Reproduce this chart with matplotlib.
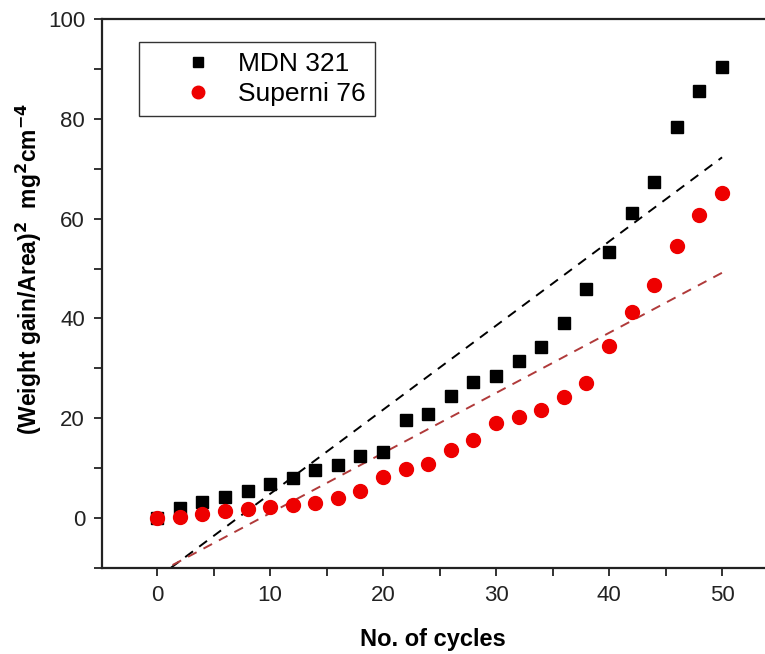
import numpy as np
import matplotlib
matplotlib.use("Agg")
import matplotlib.pyplot as plt
from matplotlib.ticker import MultipleLocator

plt.rcParams['font.family'] = ['Liberation Sans', 'DejaVu Sans']

cycles = [0, 2, 4, 6, 8, 10, 12, 14, 16, 18, 20, 22, 24, 26, 28, 30,
          32, 34, 36, 38, 40, 42, 44, 46, 48, 50]
mdn321 = [0.0, 2.1, 3.3, 4.3, 5.5, 6.9, 8.1, 9.6, 10.6, 12.4, 13.2, 19.6, 20.8,
          24.5, 27.3, 28.5, 31.4, 34.3, 39.1, 45.9, 53.3, 61.1, 67.3, 78.4,
          85.6, 90.4]
superni76 = [0.0, 0.3, 0.9, 1.5, 1.8, 2.2, 2.6, 3.1, 4.1, 5.4, 8.3, 9.9, 10.8,
             13.6, 15.7, 19.1, 20.3, 21.6, 24.2, 27.1, 34.5, 41.3, 46.7, 54.5,
             60.7, 65.1]
series_names = ["MDN 321", "Superni 76"]

fig = plt.figure(figsize=(7.65, 6.54), dpi=100)
ax = fig.add_axes([0.133, 0.1315, 0.867, 0.8395])

x = np.array(cycles, dtype=float)
y1 = np.array(mdn321)
y2 = np.array(superni76)

# linear fits through each series
p1 = np.polyfit(x, y1, 1)
p2 = np.polyfit(x, y2, 1)
xf = np.array([0.0, 50.0])
ax.plot(xf, np.polyval(p1, xf), ls=(0, (5, 4)), color='black', lw=1.4, zorder=2)
ax.plot(xf, np.polyval(p2, xf), ls=(0, (5, 4)), color='#b03a3a', lw=1.4, zorder=2)

ax.plot(x, y1, ls='none', marker='s', ms=8.4, color='black', label=series_names[0], zorder=3)
ax.plot(x, y2, ls='none', marker='o', ms=10, color='#ee0000', label=series_names[1], zorder=3)

ax.set_xlim(-4.9, 53.8)
ax.set_ylim(-10, 100)
ax.xaxis.set_major_locator(MultipleLocator(10))
ax.xaxis.set_minor_locator(MultipleLocator(5))
ax.yaxis.set_major_locator(MultipleLocator(20))
ax.yaxis.set_minor_locator(MultipleLocator(10))
ax.tick_params(which='both', direction='out', length=6, width=1.3, labelsize=16,
               colors='#222222', pad=6)
ax.tick_params(which='both', top=False, right=False)

for s in ['left', 'bottom', 'top']:
    ax.spines[s].set_linewidth(1.6)
    ax.spines[s].set_color('#222222')
ax.spines['right'].set_visible(False)

ax.set_xlabel("No. of cycles", fontsize=17, fontweight='bold', labelpad=16)
ax.set_ylabel(r"(Weight gain/Area)$^{\mathbf{2}}$  mg$^{\mathbf{2}}$cm$^{\mathbf{-4}}$",
              fontsize=16.5, fontweight='bold')
ax.yaxis.set_label_coords(-0.087, 0.545)

leg = ax.legend(loc='upper left', bbox_to_anchor=(0.056, 0.958), borderaxespad=0,
                fontsize=19, frameon=True, fancybox=False, edgecolor='#333333',
                framealpha=1, handlelength=3.7, handletextpad=-0.33,
                borderpad=0.38, labelspacing=0.22, markerscale=0.9)
leg.get_frame().set_linewidth(1.0)

fig.savefig("out.png", dpi=100)
